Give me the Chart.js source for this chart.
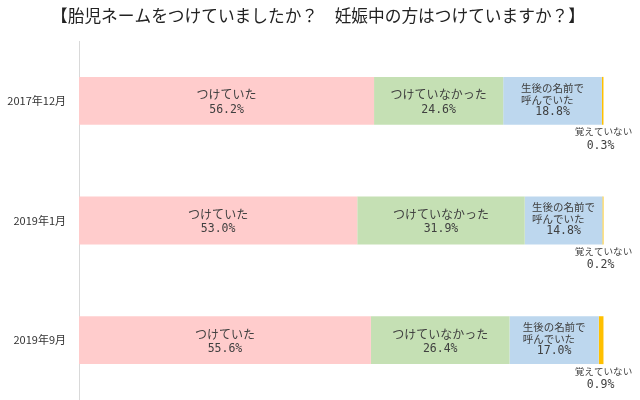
<!DOCTYPE html>
<html lang="ja">
<head>
  <meta charset="UTF-8">
  <title>胎児ネーム</title>
  <script src="https://cdn.jsdelivr.net/npm/chart.js"></script>
  <style>
    html, body { margin: 0; padding: 0; background: #fff; }
    #box { width: 640px; height: 400px; }
  </style>
</head>
<body>
  <div id="box"><canvas id="grafico"></canvas></div>
<script>
  const titulo = '【胎児ネームをつけていましたか？　妊娠中の方はつけていますか？】';
  const periodos = ['2017年12月', '2019年1月', '2019年9月'];
  const seriesNomes = ['つけていた', 'つけていなかった', '生後の名前で呼んでいた', '覚えていない'];
  const seriesLinhas = [['つけていた'], ['つけていなかった'], ['生後の名前で', '呼んでいた'], ['覚えていない']];
  const tsuketeita = [56.2, 53.0, 55.6];
  const tsuketeinakatta = [24.6, 31.9, 26.4];
  const seigoNamae = [18.8, 14.8, 17.0];
  const oboeteinai = [0.3, 0.2, 0.9];
  const cores = ['#FFCCCC', '#C5E0B4', '#BDD7EE', '#FFC000'];

  const fonteJP = '"Noto Sans CJK JP", "Noto Sans", sans-serif';
  const fonteNum = '"DejaVu Sans Mono", monospace';

  // título desenhado à mão para acertar a posição
  const cabecalho = {
    id: 'cabecalho',
    afterDraw(chart) {
      const ctx = chart.ctx;
      ctx.save();
      ctx.fillStyle = '#222';
      ctx.font = '16.7px ' + fonteJP;
      ctx.textAlign = 'center';
      ctx.textBaseline = 'middle';
      ctx.fillText(titulo, 318, 16);
      ctx.restore();
    }
  };

  // rótulos dentro/abaixo das barras
  const rotulos = {
    id: 'rotulos',
    afterDatasetsDraw(chart) {
      const ctx = chart.ctx;
      ctx.save();
      ctx.fillStyle = '#404040';
      ctx.textBaseline = 'middle';
      ctx.textAlign = 'center';
      chart.data.datasets.forEach((ds, i) => {
        const meta = chart.getDatasetMeta(i);
        meta.data.forEach((bar, j) => {
          const v = ds.data[j].toFixed(1) + '%';
          const meio = (bar.x + bar.base) / 2;
          const baixo = bar.y + bar.height / 2;
          const linhas = seriesLinhas[i];
          if (i < 2) {
            ctx.font = '12px ' + fonteJP;
            ctx.fillText(linhas[0], meio, bar.y - 6);
            ctx.font = '11.5px ' + fonteNum;
            ctx.fillText(v, meio, bar.y + 9);
          } else if (i === 2) {
            ctx.font = '10.5px ' + fonteJP;
            ctx.textAlign = 'left';
            const w = ctx.measureText(linhas[0]).width;
            ctx.fillText(linhas[0], meio - w / 2, bar.y - 13);
            ctx.fillText(linhas[1], meio - w / 2, bar.y - 1);
            ctx.textAlign = 'center';
            ctx.font = '11.5px ' + fonteNum;
            ctx.fillText(v, meio, bar.y + 11);
          } else {
            ctx.font = '9.6px ' + fonteJP;
            ctx.fillText(linhas[0], bar.x, baixo + 7);
            ctx.font = '11.5px ' + fonteNum;
            ctx.fillText(v, bar.x - 3, baixo + 21);
          }
        });
      });
      ctx.restore();
    }
  };

  const valores = [tsuketeita, tsuketeinakatta, seigoNamae, oboeteinai];

  new Chart(document.getElementById('grafico'), {
    type: 'bar',
    data: {
      labels: periodos,
      datasets: seriesNomes.map((nome, i) => ({
        label: nome,
        data: valores[i],
        backgroundColor: cores[i],
        borderWidth: 0,
        categoryPercentage: 1,
        barPercentage: 0.4
      }))
    },
    options: {
      indexAxis: 'y',
      responsive: true,
      maintainAspectRatio: false,
      animation: false,
      layout: { padding: { top: 41, right: 36, left: 0, bottom: 0 } },
      scales: {
        x: { stacked: true, min: 0, max: 100, display: false },
        y: {
          stacked: true,
          grid: { display: false },
          border: { display: true, color: '#D9D9D9', width: 1 },
          ticks: { color: '#333', font: { family: fonteJP, size: 11 }, padding: 5 },
          afterFit(scale) {
            scale.width = 79;
            scale.paddingTop = 0;
            scale.paddingBottom = 0;
          }
        }
      },
      plugins: {
        legend: { display: false },
        tooltip: { enabled: false },
        title: { display: false }
      }
    },
    plugins: [rotulos, cabecalho]
  });
</script>
</body>
</html>
